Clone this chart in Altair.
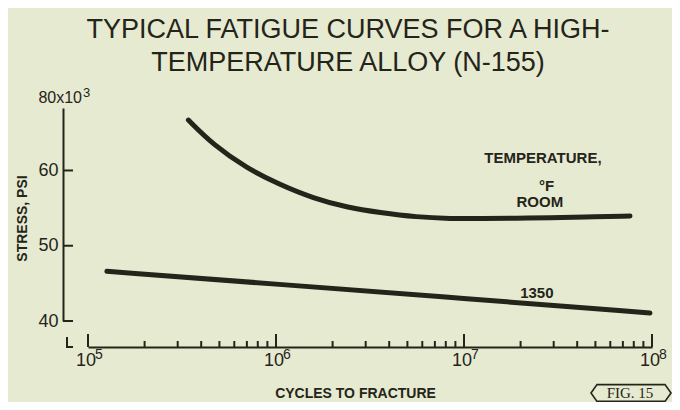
import altair as alt
import pandas as pd

# ---------------- data ----------------
ROOM_CYCLES = [3.42e5, 4.64e5, 6.99e5, 1.05e6, 1.58e6, 2.38e6, 3.57e6,
               5.60e6, 8.43e6, 1.27e7, 1.91e7, 2.86e7, 4.32e7, 7.64e7]
ROOM_STRESS = [66.7, 63.4, 60.3, 58.1, 56.3, 55.1, 54.4,
               53.8, 53.6, 53.6, 53.65, 53.72, 53.82, 53.95]

T1350_CYCLES = [1.26e5, 1.0e6, 1.0e7, 9.75e7]
T1350_STRESS = [46.6, 44.9, 43.0, 41.06]

X_MAJOR = [1e5, 1e6, 1e7, 1e8]
X_LABEL_BASE = ["10", "10", "10", "10"]
X_LABEL_EXP = ["5", "6", "7", "8"]
X_MINOR = [2e5, 3e5, 4e5, 5e5, 6e5, 7e5, 8e5, 9e5,
           2e6, 3e6, 4e6, 5e6, 6e6, 7e6, 8e6, 9e6,
           2e7, 3e7, 4e7, 5e7, 6e7, 7e7, 8e7, 9e7]
Y_TICKS = [40, 50, 60]
Y_TOP = 68.3
Y_TOP_BASE = "80x10"
Y_TOP_EXP = "3"

ANNOT_TEXT = ["TEMPERATURE,", "°F", "ROOM", "1350"]
ANNOT_N = [2.63e7, 2.75e7, 2.53e7, 2.44e7]
ANNOT_S = [61.6, 58.0, 55.8, 43.7]

TITLE = ["TYPICAL FATIGUE CURVES FOR A HIGH-", "TEMPERATURE ALLOY (N-155)"]
X_TITLE = "CYCLES TO FRACTURE"
Y_TITLE = "STRESS, PSI"
FIG_LABEL = "FIG. 15"

# ---------------- styling ----------------
INK = "#24241a"
BG = "#e6ead0"
FONT = "Liberation Sans"
W, H = 564, 213

xscale = alt.Scale(type="log", domain=[X_MAJOR[0], X_MAJOR[-1]], nice=False)
yscale = alt.Scale(domain=[Y_TICKS[0], Y_TOP], nice=False, zero=False)

curves = pd.concat([
    pd.DataFrame({"N": ROOM_CYCLES, "S": ROOM_STRESS, "series": "ROOM"}),
    pd.DataFrame({"N": T1350_CYCLES, "S": T1350_STRESS, "series": "1350"}),
])

lines = alt.Chart(curves).mark_line(
    color=INK, strokeWidth=5, strokeCap="round", interpolate="basis"
).encode(
    x=alt.X("N:Q", scale=xscale, axis=alt.Axis(
        values=X_MAJOR, labels=False, offset=26, grid=False,
        domain=True, domainColor=INK, domainWidth=2, ticks=False, tickSize=0,
        title=X_TITLE, titleFont=FONT, titleFontSize=14, titleFontWeight="bold",
        titleColor=INK, titleX=267, titleY=46, titleAlign="center",
        titleBaseline="middle")),
    y=alt.Y("S:Q", scale=yscale, axis=alt.Axis(
        values=Y_TICKS, offset=25, grid=False,
        domain=True, domainColor=INK, domainWidth=2, ticks=False, tickSize=0,
        labelFont=FONT, labelFontSize=18, labelColor=INK, labelPadding=5,
        labelFlush=False,
        title=Y_TITLE, titleFont=FONT, titleFontSize=14, titleFontWeight="bold",
        titleColor=INK, titleX=-41, titleY=110, titleAngle=270,
        titleAlign="center", titleBaseline="middle")),
    detail="series:N",
)

ytick = alt.Chart(pd.DataFrame({"S": Y_TICKS})).mark_rule(
    color=INK, strokeWidth=2
).encode(y=alt.Y("S:Q", scale=yscale), x=alt.value(-25), x2=alt.value(-15))

xmajor = alt.Chart(pd.DataFrame({"N": X_MAJOR})).mark_rule(
    color=INK, strokeWidth=2
).encode(x=alt.X("N:Q", scale=xscale), y=alt.value(H + 26), y2=alt.value(H + 13))

xminor = alt.Chart(pd.DataFrame({"N": X_MINOR})).mark_rule(
    color=INK, strokeWidth=2
).encode(x=alt.X("N:Q", scale=xscale), y=alt.value(H + 26), y2=alt.value(H + 20))

xlab_df = pd.DataFrame({"N": X_MAJOR, "b": X_LABEL_BASE, "e": X_LABEL_EXP})
xlab_base = alt.Chart(xlab_df).mark_text(
    font=FONT, fontSize=18, color=INK, align="center", baseline="alphabetic", dx=-2
).encode(x=alt.X("N:Q", scale=xscale), y=alt.value(H + 45), text="b:N")
xlab_exp = alt.Chart(xlab_df).mark_text(
    font=FONT, fontSize=14, color=INK, align="left", baseline="alphabetic", dx=7
).encode(x=alt.X("N:Q", scale=xscale), y=alt.value(H + 38), text="e:N")

# small "L" stub at the broken corner of the axes
stub_v = alt.Chart(pd.DataFrame({"a": [0]})).mark_rule(color=INK, strokeWidth=2).encode(
    x=alt.value(-21), y=alt.value(H + 16), y2=alt.value(H + 26))
stub_h = alt.Chart(pd.DataFrame({"a": [0]})).mark_rule(color=INK, strokeWidth=2).encode(
    x=alt.value(-22), x2=alt.value(-15), y=alt.value(H + 26))

top_df = pd.DataFrame({"S": [Y_TOP], "b": [Y_TOP_BASE], "e": [Y_TOP_EXP]})
top_base = alt.Chart(top_df).mark_text(
    font=FONT, fontSize=16, color=INK, align="right", baseline="alphabetic", dy=-5
).encode(y=alt.Y("S:Q", scale=yscale), x=alt.value(-6), text="b:N")
top_exp = alt.Chart(top_df).mark_text(
    font=FONT, fontSize=13, color=INK, align="left", baseline="alphabetic", dy=-11
).encode(y=alt.Y("S:Q", scale=yscale), x=alt.value(-5), text="e:N")

annot = alt.Chart(pd.DataFrame({"N": ANNOT_N, "S": ANNOT_S, "t": ANNOT_TEXT})).mark_text(
    font=FONT, fontSize=15, fontWeight="bold", color=INK, align="center", baseline="middle"
).encode(x=alt.X("N:Q", scale=xscale), y=alt.Y("S:Q", scale=yscale), text="t:N")

# "FIG. 15" tag in an arrow-ended outline
fig_df = pd.DataFrame({"t": [FIG_LABEL]})
fig_box = alt.Chart(fig_df).mark_point(
    shape="M -1 0 L -0.85 -0.21 L 0.85 -0.21 L 1 0 L 0.85 0.21 L -0.85 0.21 Z",
    size=6400, filled=False, color=INK, strokeWidth=1.6, opacity=1
).encode(x=alt.value(543), y=alt.value(285))
fig_text = alt.Chart(fig_df).mark_text(
    font="Liberation Serif", fontSize=15, color=INK, align="center", baseline="middle"
).encode(x=alt.value(542), y=alt.value(285), text="t:N")

chart = alt.layer(lines, ytick, xmajor, xminor, xlab_base, xlab_exp, stub_v, stub_h,
                  top_base, top_exp, annot, fig_box, fig_text).properties(
    width=W, height=H,
    title=alt.TitleParams(TITLE, font=FONT, fontSize=27, fontWeight="normal", color=INK,
                          anchor="middle", lineHeight=33, offset=10, dx=-22),
    padding={"left": 80, "top": 100, "right": 20, "bottom": 81},
    autosize=alt.AutoSizeParams(type="none"),
    background=BG,
).configure_view(stroke="transparent")

chart.save("out.html", embed_options={"renderer": "svg", "actions": False})
